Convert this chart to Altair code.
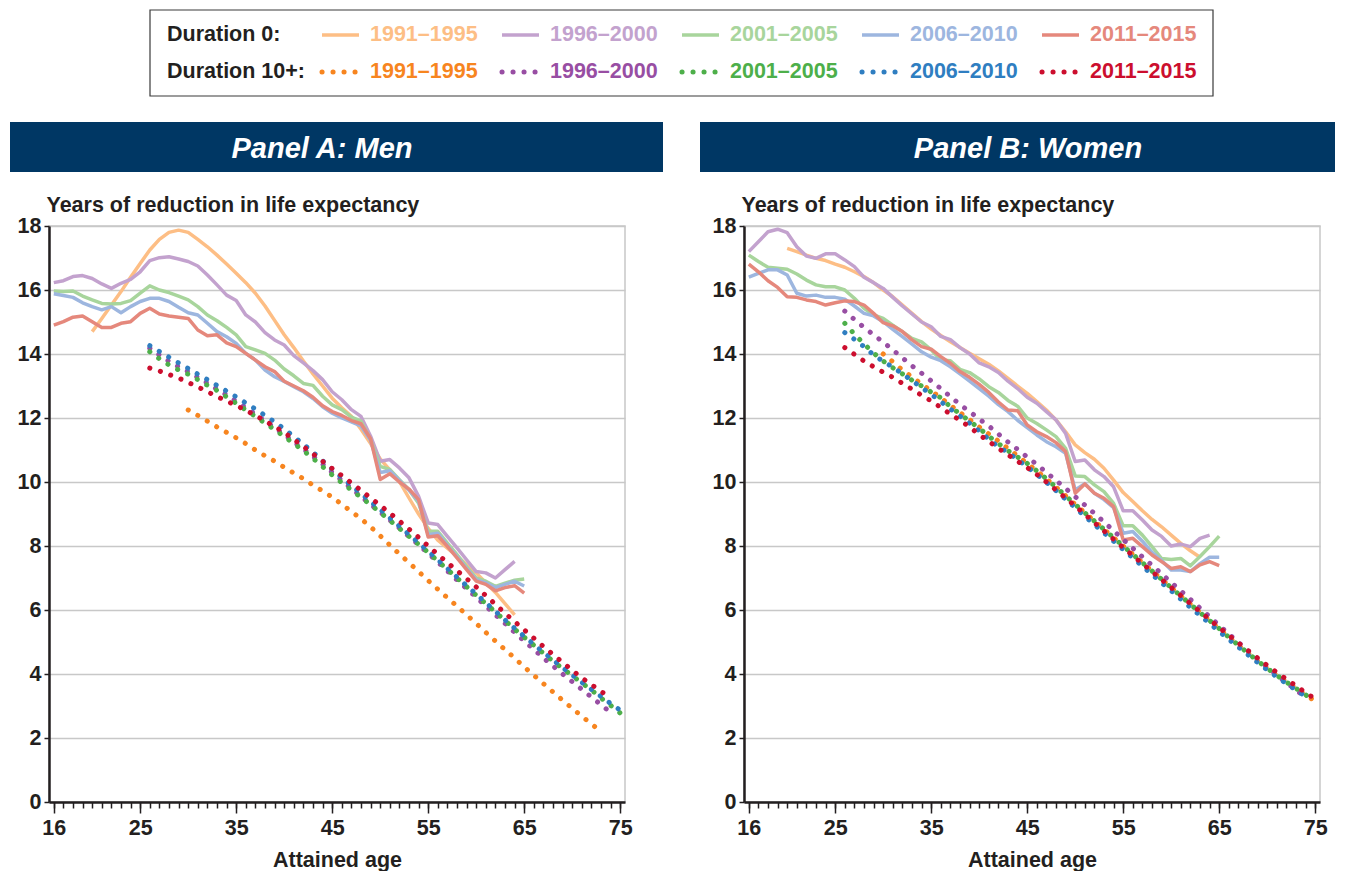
import altair as alt
import pandas as pd

# ---------------- data ----------------
PERIODS = ["1991–1995", "1996–2000", "2001–2005", "2006–2010", "2011–2015"]
LIGHT = ["#FDBE85", "#C3A2CE", "#A8D59C", "#9DB6DF", "#E5887C"]
DARK = ["#F7851F", "#984EA3", "#4DAF4A", "#2F7EC1", "#CC0E2E"]
PANEL_TITLES = ["Panel A: Men", "Panel B: Women"]
ROW_LABELS = ["Duration 0:", "Duration 10+:"]
Y_TITLE = "Years of reduction in life expectancy"
X_TITLE = "Attained age"
X_MAJOR_TICKS = [16, 25, 35, 45, 55, 65, 75]
X_MINOR_TICKS = list(range(16, 76))
Y_TICKS = [0, 2, 4, 6, 8, 10, 12, 14, 16, 18]

# Men, duration 0 (first age of each series, then one value per year)
MEN_D0_START = [20, 16, 16, 16, 16]
MEN_D0_1991 = [14.7, 15.11, 15.53, 15.95, 16.4, 16.83, 17.25, 17.58, 17.8, 17.87,
               17.8, 17.58, 17.35, 17.09, 16.81, 16.52, 16.23, 15.9, 15.5, 15.05,
               14.6, 14.2, 13.78, 13.38, 13.0, 12.62, 12.32, 12.05, 11.65, 11.2,
               10.72, 10.38, 10.02, 9.5, 9.0, 8.55, 8.18, 7.93, 7.68, 7.42,
               7.16, 6.85, 6.55, 6.2, 5.85]
MEN_D0_1996 = [16.23, 16.29, 16.42, 16.45, 16.36, 16.19, 16.05, 16.21, 16.33, 16.57,
               16.92, 17.01, 17.04, 16.97, 16.89, 16.75, 16.47, 16.16, 15.84, 15.67,
               15.22, 15.0, 14.67, 14.44, 14.28, 13.95, 13.72, 13.48, 13.2, 12.82,
               12.57, 12.26, 12.05, 11.43, 10.65, 10.7, 10.44, 10.13, 9.55, 8.72,
               8.67, 8.3, 7.94, 7.57, 7.2, 7.16, 7.0, 7.26, 7.52]
MEN_D0_2001 = [15.97, 15.95, 15.97, 15.81, 15.69, 15.58, 15.56, 15.58, 15.67, 15.9,
               16.13, 16.0, 15.92, 15.81, 15.69, 15.48, 15.22, 15.04, 14.83, 14.6,
               14.23, 14.13, 14.02, 13.81, 13.53, 13.32, 13.08, 13.02, 12.68, 12.41,
               12.26, 12.03, 11.9, 11.32, 10.49, 10.39, 10.07, 9.76, 9.34, 8.46,
               8.46, 8.09, 7.73, 7.36, 7.0, 6.9, 6.74, 6.84, 6.93, 6.97]
MEN_D0_2006 = [15.88, 15.83, 15.77, 15.6, 15.48, 15.38, 15.48, 15.29, 15.48, 15.64,
               15.74, 15.74, 15.64, 15.46, 15.29, 15.22, 14.96, 14.7, 14.54, 14.33,
               14.02, 13.81, 13.5, 13.29, 13.14, 12.98, 12.82, 12.61, 12.35, 12.15,
               12.0, 11.88, 11.75, 11.3, 10.3, 10.35, 10.05, 9.75, 9.4, 8.35,
               8.4, 8.02, 7.67, 7.3, 6.95, 6.85, 6.7, 6.8, 6.9, 6.75]
MEN_D0_2011 = [14.9, 15.01, 15.15, 15.19, 15.01, 14.83, 14.83, 14.96, 15.01, 15.27,
               15.43, 15.25, 15.19, 15.15, 15.11, 14.75, 14.57, 14.6, 14.35, 14.23,
               14.02, 13.81, 13.6, 13.45, 13.15, 13.0, 12.85, 12.65, 12.38, 12.2,
               12.08, 11.92, 11.82, 11.35, 10.08, 10.26, 10.0, 9.78, 9.45, 8.28,
               8.32, 7.99, 7.63, 7.26, 6.9, 6.8, 6.6, 6.7, 6.76, 6.53]

# Men, duration 10+
MEN_D10_START = [30, 26, 26, 26, 26]
MEN_D10_1991 = [12.25, 12.08, 11.9, 11.72, 11.55, 11.38, 11.2, 11.0, 10.82, 10.65,
                10.46, 10.28, 10.1, 9.9, 9.72, 9.53, 9.3, 9.08, 8.85, 8.6,
                8.32, 8.03, 7.75, 7.48, 7.2, 6.92, 6.65, 6.38, 6.12, 5.85,
                5.58, 5.3, 5.03, 4.76, 4.5, 4.22, 3.96, 3.7, 3.44, 3.18,
                2.93, 2.68, 2.44, 2.2]
MEN_D10_1996 = [14.18, 13.97, 13.77, 13.6, 13.45, 13.27, 13.09, 12.9, 12.72, 12.52,
                12.32, 12.12, 11.9, 11.7, 11.48, 11.25, 11.03, 10.8, 10.56, 10.3,
                10.05, 9.8, 9.55, 9.3, 9.06, 8.81, 8.56, 8.3, 8.04, 7.77,
                7.5, 7.22, 6.94, 6.67, 6.4, 6.12, 5.85, 5.58, 5.3, 5.03,
                4.77, 4.5, 4.25, 4.0, 3.76, 3.52, 3.28, 3.04, 2.8]
MEN_D10_2001 = [14.07, 13.85, 13.66, 13.5, 13.37, 13.2, 13.02, 12.86, 12.66, 12.46,
                12.25, 12.05, 11.84, 11.64, 11.42, 11.2, 10.98, 10.74, 10.48, 10.22,
                9.98, 9.75, 9.52, 9.29, 9.05, 8.8, 8.55, 8.3, 8.05, 7.8,
                7.53, 7.27, 7.0, 6.73, 6.46, 6.2, 5.94, 5.67, 5.4, 5.15,
                4.9, 4.65, 4.4, 4.17, 3.95, 3.72, 3.5, 3.25, 3.02, 2.78]
MEN_D10_2006 = [14.26, 14.08, 13.9, 13.72, 13.55, 13.37, 13.2, 13.02, 12.84, 12.66,
                12.47, 12.28, 12.08, 11.88, 11.66, 11.42, 11.18, 10.93, 10.66, 10.4,
                10.14, 9.89, 9.64, 9.39, 9.14, 8.88, 8.62, 8.36, 8.1, 7.84,
                7.57, 7.3, 7.03, 6.76, 6.5, 6.23, 5.96, 5.69, 5.43, 5.18,
                4.93, 4.68, 4.44, 4.2, 3.97, 3.74, 3.52, 3.3, 3.08, 2.87]
MEN_D10_2011 = [13.56, 13.47, 13.36, 13.25, 13.11, 12.97, 12.82, 12.67, 12.53, 12.39,
                12.24, 12.08, 11.91, 11.73, 11.55, 11.33, 11.11, 10.88, 10.65, 10.42,
                10.2, 9.97, 9.74, 9.5, 9.27, 9.03, 8.78, 8.53, 8.27, 8.0,
                7.74, 7.48, 7.23, 6.98, 6.72, 6.45, 6.18, 5.9, 5.64, 5.38,
                5.12, 4.86, 4.61, 4.36, 4.12, 3.88, 3.67, 3.46, 3.25]

# Women, duration 0
WOMEN_D0_START = [20, 16, 16, 16, 16]
WOMEN_D0_1991 = [17.3, 17.2, 17.09, 16.99, 16.92, 16.81, 16.71, 16.57, 16.42, 16.23,
                 16.0, 15.79, 15.53, 15.27, 15.01, 14.78, 14.58, 14.38, 14.2, 14.02,
                 13.85, 13.68, 13.47, 13.24, 13.0, 12.77, 12.51, 12.25, 11.94, 11.57,
                 11.16, 10.92, 10.71, 10.43, 10.06, 9.67, 9.39, 9.1, 8.83, 8.6,
                 8.34, 8.08, 7.85, 7.65]
WOMEN_D0_1996 = [17.2, 17.51, 17.82, 17.9, 17.79, 17.35, 17.06, 16.99, 17.13, 17.13,
                 16.94, 16.73, 16.4, 16.23, 16.05, 15.77, 15.5, 15.25, 15.0, 14.85,
                 14.55, 14.45, 14.2, 14.0, 13.72, 13.6, 13.42, 13.15, 12.92, 12.65,
                 12.46, 12.2, 11.94, 11.52, 10.64, 10.69, 10.38, 10.17, 9.85, 9.1,
                 9.1, 8.81, 8.5, 8.3, 8.0, 8.06, 7.98, 8.24, 8.34]
WOMEN_D0_2001 = [17.09, 16.89, 16.71, 16.68, 16.65, 16.5, 16.31, 16.16, 16.1, 16.1,
                 16.0, 15.74, 15.43, 15.22, 15.11, 14.9, 14.7, 14.49, 14.38, 14.13,
                 13.81, 13.79, 13.52, 13.42, 13.22, 12.98, 12.8, 12.55, 12.37, 12.0,
                 11.83, 11.63, 11.42, 11.05, 10.19, 10.17, 9.91, 9.7, 9.33, 8.63,
                 8.63, 8.34, 7.98, 7.61, 7.58, 7.61, 7.38, 7.67, 7.98, 8.31]
WOMEN_D0_2006 = [16.4, 16.52, 16.63, 16.63, 16.47, 15.9, 15.81, 15.84, 15.77, 15.77,
                 15.71, 15.5, 15.27, 15.19, 15.01, 14.77, 14.54, 14.31, 14.07, 13.9,
                 13.79, 13.6, 13.38, 13.15, 12.92, 12.68, 12.42, 12.2, 11.93, 11.7,
                 11.47, 11.26, 11.1, 10.9, 9.75, 9.95, 9.65, 9.45, 9.2, 8.4,
                 8.45, 8.15, 7.8, 7.55, 7.25, 7.25, 7.2, 7.45, 7.65, 7.65]
WOMEN_D0_2011 = [16.81, 16.57, 16.29, 16.08, 15.79, 15.77, 15.69, 15.64, 15.53, 15.6,
                 15.66, 15.64, 15.53, 15.27, 14.98, 14.88, 14.7, 14.44, 14.23, 14.15,
                 13.92, 13.71, 13.45, 13.27, 13.05, 12.8, 12.5, 12.25, 12.23, 11.78,
                 11.57, 11.42, 11.23, 10.95, 9.65, 9.94, 9.65, 9.49, 9.23, 8.19,
                 8.24, 7.98, 7.72, 7.51, 7.3, 7.35, 7.2, 7.41, 7.51, 7.39]

# Women, duration 10+
WOMEN_D10_START = [30, 26, 26, 26, 26]
WOMEN_D10_1991 = [14.0, 13.76, 13.5, 13.28, 13.06, 12.85, 12.63, 12.4, 12.17, 11.95,
                  11.72, 11.5, 11.28, 11.05, 10.82, 10.58, 10.35, 10.1, 9.84, 9.57,
                  9.3, 9.04, 8.78, 8.52, 8.26, 8.0, 7.74, 7.48, 7.22, 6.96,
                  6.7, 6.44, 6.18, 5.92, 5.67, 5.42, 5.15, 4.9, 4.65, 4.41,
                  4.18, 3.96, 3.75, 3.55, 3.35, 3.15]
WOMEN_D10_1996 = [15.34, 15.08, 14.83, 14.6, 14.37, 14.13, 13.88, 13.63, 13.4, 13.16,
                  12.92, 12.67, 12.42, 12.2, 11.97, 11.75, 11.5, 11.25, 11.02, 10.78,
                  10.55, 10.3, 10.05, 9.8, 9.54, 9.28, 9.02, 8.75, 8.48, 8.2,
                  7.93, 7.66, 7.4, 7.13, 6.86, 6.6, 6.33, 6.06, 5.79, 5.52,
                  5.25, 4.99, 4.73, 4.47, 4.22, 3.97, 3.73, 3.5, 3.27]
WOMEN_D10_2001 = [14.96, 14.62, 14.32, 14.03, 13.78, 13.57, 13.38, 13.18, 13.0, 12.81,
                  12.63, 12.35, 12.13, 11.9, 11.68, 11.43, 11.2, 10.98, 10.78, 10.58,
                  10.35, 10.1, 9.84, 9.57, 9.3, 9.04, 8.78, 8.52, 8.26, 8.0,
                  7.74, 7.48, 7.22, 6.96, 6.7, 6.44, 6.18, 5.92, 5.67, 5.42,
                  5.15, 4.9, 4.65, 4.41, 4.18, 3.96, 3.75, 3.55, 3.35, 3.15]
WOMEN_D10_2006 = [14.67, 14.46, 14.23, 13.97, 13.77, 13.59, 13.38, 13.17, 12.95, 12.74,
                  12.51, 12.28, 12.06, 11.84, 11.6, 11.34, 11.1, 10.92, 10.7, 10.47,
                  10.24, 9.99, 9.73, 9.46, 9.2, 8.93, 8.67, 8.41, 8.15, 7.89,
                  7.63, 7.37, 7.11, 6.85, 6.6, 6.34, 6.08, 5.83, 5.58, 5.33,
                  5.08, 4.84, 4.6, 4.36, 4.13, 3.91, 3.7, 3.5, 3.3]
WOMEN_D10_2011 = [14.2, 13.99, 13.78, 13.6, 13.43, 13.27, 13.08, 12.9, 12.71, 12.53,
                  12.33, 12.12, 11.93, 11.72, 11.48, 11.27, 11.05, 10.85, 10.65, 10.45,
                  10.24, 10.0, 9.75, 9.5, 9.25, 8.99, 8.73, 8.47, 8.21, 7.95,
                  7.7, 7.45, 7.2, 6.95, 6.7, 6.45, 6.2, 5.95, 5.7, 5.45,
                  5.21, 4.97, 4.73, 4.5, 4.27, 4.05, 3.84, 3.63, 3.42, 3.22]

# ---------------- styling / layout ----------------
FONT = "Liberation Sans"
TXT = "#231F20"
NAVY = "#003764"
GRID = "#C8C8C8"
W = 576
H = 576
DOT_DASH = [0.1, 10.9]
FS = 21.5

KEYS = [f"D0 {p}" for p in PERIODS] + [f"D10 {p}" for p in PERIODS]
COLOR_RANGE = LIGHT + DARK


def build_df(d0_start, d0_lists, d10_start, d10_lists):
    rows = []
    for dur, starts, lists in (("D0", d0_start, d0_lists), ("D10", d10_start, d10_lists)):
        for p, s, vals in zip(PERIODS, starts, lists):
            for j, v in enumerate(vals):
                rows.append({"age": s + j, "value": v, "key": f"{dur} {p}", "dur": dur})
    return pd.DataFrame(rows)


men_df = build_df(MEN_D0_START, [MEN_D0_1991, MEN_D0_1996, MEN_D0_2001, MEN_D0_2006, MEN_D0_2011],
                  MEN_D10_START, [MEN_D10_1991, MEN_D10_1996, MEN_D10_2001, MEN_D10_2006, MEN_D10_2011])
women_df = build_df(WOMEN_D0_START, [WOMEN_D0_1991, WOMEN_D0_1996, WOMEN_D0_2001, WOMEN_D0_2006, WOMEN_D0_2011],
                    WOMEN_D10_START, [WOMEN_D10_1991, WOMEN_D10_1996, WOMEN_D10_2001, WOMEN_D10_2006, WOMEN_D10_2011])


def panel(df, title, hx1, hx2, tx):
    x_scale = alt.Scale(domain=[15.5, 75.5], nice=False, zero=False)
    y_scale = alt.Scale(domain=[0, 18], nice=False, zero=False)
    y_axis = alt.Axis(values=Y_TICKS, title=Y_TITLE, titleAngle=0, titleAlign="left",
                      titleBaseline="alphabetic", titleX=-3, titleY=-15, titleFontSize=FS,
                      titleFontWeight="bold", titleColor=TXT, labelFontSize=FS,
                      labelFontWeight="bold", labelColor=TXT, labelPadding=3, tickSize=5,
                      tickWidth=1.5, tickColor=TXT, domainColor=TXT, domainWidth=2.5,
                      grid=True, gridColor=GRID, gridWidth=1.5)
    major_axis = alt.Axis(values=X_MAJOR_TICKS, orient="bottom", title=X_TITLE, titleFontSize=FS,
                          titleFontWeight="bold", titleColor=TXT, titlePadding=11,
                          labelFontSize=FS, labelFontWeight="bold", labelColor=TXT,
                          labelPadding=4, labelFlush=False, tickSize=11, tickWidth=1.5,
                          tickColor=TXT, domainColor=TXT, domainWidth=2.5, grid=False)
    minor_axis = alt.Axis(values=X_MINOR_TICKS, orient="bottom", title=None, labels=False,
                          domain=False, grid=False, tickSize=6, tickWidth=1.5, tickColor=TXT)
    y_enc = alt.Y("value:Q", scale=y_scale, axis=y_axis)
    color = alt.Color("key:N", scale=alt.Scale(domain=KEYS, range=COLOR_RANGE), legend=None)

    solid = alt.Chart(df).transform_filter(alt.datum.dur == "D0").mark_line(
        strokeWidth=3.5, strokeJoin="round").encode(
        x=alt.X("age:Q", scale=x_scale, axis=major_axis), y=y_enc, color=color)
    dotted = alt.Chart(df).transform_filter(alt.datum.dur == "D10").mark_line(
        strokeWidth=5, strokeDash=DOT_DASH, strokeCap="round").encode(
        x=alt.X("age:Q", scale=x_scale, axis=minor_axis), y=y_enc, color=color)

    hdr_df = pd.DataFrame({"title": [title]})
    hdr_rect = alt.Chart(hdr_df).mark_rect(color=NAVY).encode(
        x=alt.value(hx1), x2=alt.value(hx2), y=alt.value(-104), y2=alt.value(-54))
    hdr_text = alt.Chart(hdr_df).mark_text(
        color="white", fontSize=29, fontWeight="bold", fontStyle="italic",
        align="center", baseline="middle").encode(
        x=alt.value(tx), y=alt.value(-77), text="title:N")

    return alt.layer(hdr_rect, hdr_text, solid, dotted).resolve_axis(x="independent").properties(
        width=W, height=H, view=alt.ViewBackground(stroke=GRID, strokeWidth=1.5))


panel_a = panel(men_df, PANEL_TITLES[0], -39, 614, 273)
panel_b = panel(women_df, PANEL_TITLES[1], -44, 591, 284)

# ---------------- legend ----------------
LEG_W = 1164
LEG_H = 86
TEXT_X0 = 321
COL_STEP = 180
ROW_Y = [25, 62]
ROW_LABEL_X = 118

samp_rows = []
for r, (dur, pal) in enumerate((("D0", LIGHT), ("D10", DARK))):
    for i, p in enumerate(PERIODS):
        tx = TEXT_X0 + i * COL_STEP
        samp_rows.append({"dur": dur, "label": p, "color": pal[i], "tx": tx,
                          "x1": tx - 48, "x2": tx - 11, "y": ROW_Y[r]})
samp_df = pd.DataFrame(samp_rows)
rowlab_df = pd.DataFrame({"label": ROW_LABELS, "x": [ROW_LABEL_X, ROW_LABEL_X], "y": ROW_Y})
box_df = pd.DataFrame({"x1": [101], "x2": [LEG_W], "y1": [0], "y2": [LEG_H]})

lx = alt.Scale(domain=[0, LEG_W], nice=False, zero=False)
ly = alt.Scale(domain=[0, LEG_H], nice=False, zero=False, reverse=True)

leg_box = alt.Chart(box_df).mark_rect(fill="white", stroke="#3A3A3A", strokeWidth=1.2).encode(
    x=alt.X("x1:Q", scale=lx, axis=None), x2="x2:Q",
    y=alt.Y("y1:Q", scale=ly, axis=None), y2="y2:Q")
leg_rowlab = alt.Chart(rowlab_df).mark_text(
    align="left", baseline="middle", fontSize=FS, fontWeight="bold", color=TXT).encode(
    x=alt.X("x:Q", scale=lx, axis=None), y=alt.Y("y:Q", scale=ly, axis=None), text="label:N")
leg_solid = alt.Chart(samp_df).transform_filter(alt.datum.dur == "D0").mark_rule(strokeWidth=3.5).encode(
    x=alt.X("x1:Q", scale=lx, axis=None), x2="x2:Q", y=alt.Y("y:Q", scale=ly, axis=None),
    color=alt.Color("color:N", scale=None))
leg_dot = alt.Chart(samp_df).transform_filter(alt.datum.dur == "D10").mark_rule(
    strokeWidth=5, strokeDash=DOT_DASH, strokeCap="round").encode(
    x=alt.X("x1:Q", scale=lx, axis=None), x2="x2:Q", y=alt.Y("y:Q", scale=ly, axis=None),
    color=alt.Color("color:N", scale=None))
leg_text = alt.Chart(samp_df).mark_text(
    align="left", baseline="middle", fontSize=FS, fontWeight="bold").encode(
    x=alt.X("tx:Q", scale=lx, axis=None), y=alt.Y("y:Q", scale=ly, axis=None),
    text="label:N", color=alt.Color("color:N", scale=None))

legend = alt.layer(leg_box, leg_rowlab, leg_solid, leg_dot, leg_text).properties(
    width=LEG_W, height=LEG_H, view=alt.ViewBackground(stroke="transparent"))

panels = alt.hconcat(panel_a, panel_b, spacing=119, bounds="flush")

chart = alt.vconcat(legend, panels, spacing=130, bounds="flush").resolve_scale(
    x="independent", y="independent", color="independent").properties(
    padding={"left": 1, "top": 0, "right": 5, "bottom": 5}).configure(font=FONT)

chart.save("out.html", embed_options={"renderer": "svg", "actions": False})
